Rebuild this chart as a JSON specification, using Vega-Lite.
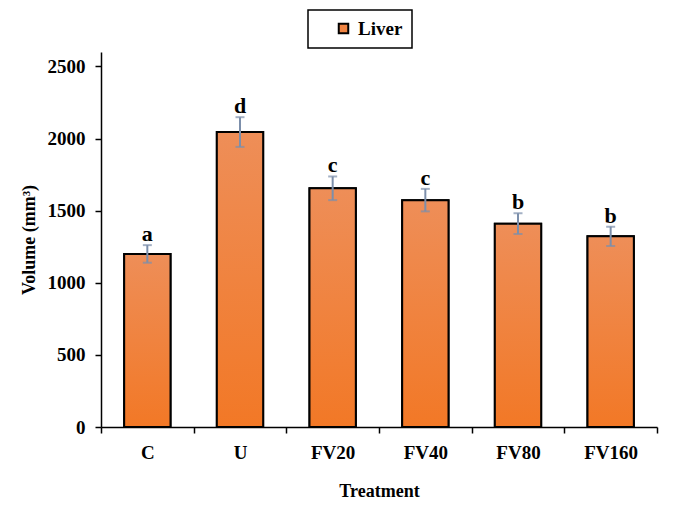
{
  "$schema": "https://vega.github.io/schema/vega-lite/v6.json",
  "autosize": {"type": "none"},
  "width": 556,
  "height": 375,
  "padding": {"left": 101, "top": 52, "right": 28, "bottom": 87},
  "background": "white",
  "data": {
    "values": [
      {"Treatment": "C", "Volume": 1200, "lo": 1139, "hi": 1261, "sig": "a", "Organ": "Liver"},
      {"Treatment": "U", "Volume": 2045, "lo": 1942, "hi": 2148, "sig": "d", "Organ": "Liver"},
      {"Treatment": "FV20", "Volume": 1655, "lo": 1573, "hi": 1737, "sig": "c", "Organ": "Liver"},
      {"Treatment": "FV40", "Volume": 1573, "lo": 1495, "hi": 1651, "sig": "c", "Organ": "Liver"},
      {"Treatment": "FV80", "Volume": 1410, "lo": 1338, "hi": 1482, "sig": "b", "Organ": "Liver"},
      {"Treatment": "FV160", "Volume": 1322, "lo": 1255, "hi": 1389, "sig": "b", "Organ": "Liver"}
    ]
  },
  "encoding": {
    "x": {
      "field": "Treatment",
      "type": "nominal",
      "sort": null,
      "scale": {"paddingInner": 0, "paddingOuter": 0},
      "axis": {
        "title": "Treatment",
        "labelAngle": 0,
        "tickBand": "extent",
        "tickSize": 6,
        "labelPadding": 10,
        "titlePadding": 20
      }
    }
  },
  "layer": [
    {
      "mark": {"type": "bar", "stroke": "black", "strokeWidth": 2, "width": {"band": 0.5}},
      "encoding": {
        "y": {
          "field": "Volume",
          "type": "quantitative",
          "scale": {"domain": [0, 2500]},
          "axis": {
            "title": "Volume (mm³)",
            "values": [0, 500, 1000, 1500, 2000, 2500],
            "format": "d",
            "tickSize": 6,
            "labelPadding": 10,
            "titlePadding": 9
          }
        },
        "color": {
          "field": "Organ",
          "type": "nominal",
          "scale": {"range": ["#F08442"]},
          "legend": {
            "title": null,
            "orient": "none",
            "legendX": 207,
            "legendY": -42,
            "strokeColor": "black",
            "padding": 9,
            "symbolType": "square",
            "symbolSize": 90,
            "symbolStrokeColor": "black",
            "symbolStrokeWidth": 2,
            "symbolOpacity": 1,
            "symbolOffset": 17,
            "labelOffset": 5,
            "labelFont": "Liberation Serif",
            "labelFontWeight": "bold",
            "labelFontSize": 19,
            "labelColor": "black",
            "labelExpr": "datum.label + '\u00a0\u00a0\u00a0'"
          }
        }
      }
    },
    {
      "mark": {
        "type": "bar",
        "stroke": "black",
        "strokeWidth": 2,
        "width": {"band": 0.5},
        "fill": {
          "gradient": "linear",
          "x1": 0, "y1": 0, "x2": 0, "y2": 1,
          "stops": [
            {"offset": 0, "color": "#EE8E58"},
            {"offset": 1, "color": "#F27826"}
          ]
        }
      },
      "encoding": {
        "y": {"field": "Volume", "type": "quantitative"}
      }
    },
    {
      "mark": {"type": "rule", "color": "#7C8FAB", "strokeWidth": 2},
      "encoding": {
        "y": {"field": "lo", "type": "quantitative"},
        "y2": {"field": "hi"}
      }
    },
    {
      "mark": {"type": "tick", "color": "#7C8FAB", "size": 9, "thickness": 2, "orient": "horizontal"},
      "encoding": {
        "y": {"field": "lo", "type": "quantitative"}
      }
    },
    {
      "mark": {"type": "tick", "color": "#7C8FAB", "size": 9, "thickness": 2, "orient": "horizontal"},
      "encoding": {
        "y": {"field": "hi", "type": "quantitative"}
      }
    },
    {
      "mark": {
        "type": "text",
        "font": "Liberation Serif",
        "fontWeight": "bold",
        "fontSize": 22,
        "baseline": "alphabetic",
        "dy": -4,
        "color": "black"
      },
      "encoding": {
        "y": {"field": "hi", "type": "quantitative"},
        "text": {"field": "sig"}
      }
    }
  ],
  "config": {
    "view": {"stroke": null},
    "legend": {"strokeWidth": 1.5},
    "axis": {
      "grid": false,
      "domainColor": "black",
      "domainWidth": 1.5,
      "tickColor": "black",
      "tickWidth": 1.5,
      "labelFont": "Liberation Serif",
      "labelFontWeight": "bold",
      "labelFontSize": 19,
      "labelColor": "black",
      "titleFont": "Liberation Serif",
      "titleFontWeight": "bold",
      "titleFontSize": 18,
      "titleColor": "black"
    }
  }
}
